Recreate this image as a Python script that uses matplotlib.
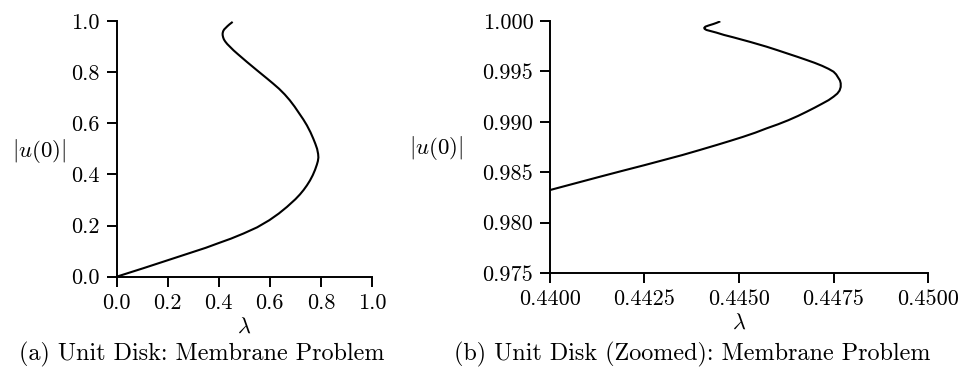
import matplotlib
matplotlib.use("Agg")
import matplotlib.pyplot as plt
from matplotlib.ticker import FormatStrFormatter

plt.rcParams["font.family"] = "serif"
plt.rcParams["font.serif"] = ["cmr10"]
plt.rcParams["mathtext.fontset"] = "cm"
plt.rcParams["axes.formatter.use_mathtext"] = True
plt.rcParams["font.size"] = 16

# solution branch on the unit disk: lambda vs |u(0)|
lam_full = [0.000, 0.052, 0.104, 0.153, 0.202, 0.251, 0.300, 0.349, 0.398, 0.448,
            0.497, 0.550, 0.598, 0.635, 0.667, 0.700, 0.718, 0.732, 0.745, 0.757,
            0.768, 0.777, 0.784, 0.788, 0.790, 0.789, 0.785, 0.778, 0.770, 0.759,
            0.745, 0.731, 0.714, 0.697, 0.678, 0.658, 0.636, 0.613, 0.589, 0.551,
            0.510, 0.475, 0.458, 0.444, 0.433, 0.425, 0.420, 0.417, 0.415, 0.415,
            0.417, 0.421, 0.427, 0.434, 0.442, 0.451]
u_full = [0.000, 0.0165, 0.033, 0.049, 0.065, 0.081, 0.097, 0.113, 0.131, 0.149,
          0.169, 0.193, 0.221, 0.247, 0.273, 0.303, 0.322, 0.339, 0.357, 0.376,
          0.397, 0.418, 0.438, 0.452, 0.466, 0.480, 0.500, 0.520, 0.540, 0.565,
          0.592, 0.615, 0.640, 0.665, 0.690, 0.713, 0.735, 0.755, 0.775, 0.806,
          0.840, 0.870, 0.885, 0.899, 0.910, 0.920, 0.928, 0.936, 0.945, 0.952,
          0.960, 0.967, 0.973, 0.980, 0.987, 0.994]

# zoomed part of the branch near |u(0)| = 1
lam_zoom = [0.44000, 0.44066, 0.44132, 0.44190, 0.44250, 0.44300, 0.44350, 0.44396,
            0.44441, 0.44476, 0.44510, 0.44543, 0.44573, 0.44603, 0.44630, 0.44656,
            0.44679, 0.44700, 0.44720, 0.44737, 0.44750, 0.44760, 0.44766, 0.44769,
            0.44769, 0.44767, 0.44762, 0.44757, 0.44750, 0.44737, 0.44720, 0.44700,
            0.44679, 0.44655, 0.44630, 0.44602, 0.44573, 0.44530, 0.44485, 0.44460,
            0.44440, 0.44425, 0.44414, 0.44409, 0.44408, 0.44411, 0.44420, 0.44432,
            0.44441, 0.44448]
u_zoom = [0.98323, 0.98389, 0.98455, 0.98512, 0.98570, 0.98620, 0.98670, 0.98720,
          0.98770, 0.98810, 0.98850, 0.98892, 0.98935, 0.98975, 0.99015, 0.99058,
          0.99100, 0.99140, 0.99180, 0.99215, 0.99249, 0.99280, 0.99310, 0.99345,
          0.99382, 0.99410, 0.99440, 0.99470, 0.99497, 0.99525, 0.99555, 0.99585,
          0.99613, 0.99644, 0.99675, 0.99710, 0.99745, 0.99792, 0.99838, 0.99862,
          0.99885, 0.99900, 0.99911, 0.99922, 0.99932, 0.99944, 0.99956, 0.99970,
          0.99982, 0.99993]

xticks_full = [0.0, 0.2, 0.4, 0.6, 0.8, 1.0]
yticks_full = [0.0, 0.2, 0.4, 0.6, 0.8, 1.0]
xticks_zoom = [0.4400, 0.4425, 0.4450, 0.4475, 0.4500]
yticks_zoom = [0.975, 0.980, 0.985, 0.990, 0.995, 1.000]

captions = ["(a) Unit Disk: Membrane Problem",
            "(b) Unit Disk (Zoomed): Membrane Problem"]


def style_axes(ax):
    for side in ["top", "right"]:
        ax.spines[side].set_visible(False)
    for side in ["left", "bottom"]:
        ax.spines[side].set_linewidth(1.4)
    ax.tick_params(direction="out", length=7, width=1.4, labelsize=16)
    ax.tick_params(axis="y", pad=5)
    ax.tick_params(axis="x", pad=5)


fig = plt.figure(figsize=(9.61, 3.73), dpi=100)

ax1 = fig.add_axes([0.1214, 0.2582, 0.2657, 0.6855])
ax1.plot(lam_full, u_full, color="black", lw=1.5)
ax1.set_xlim(0, 1)
ax1.set_ylim(0, 1)
ax1.set_xticks(xticks_full)
ax1.set_yticks(yticks_full)
ax1.xaxis.set_major_formatter(FormatStrFormatter("%.1f"))
ax1.yaxis.set_major_formatter(FormatStrFormatter("%.1f"))
style_axes(ax1)
ax1.set_xlabel(r"$\lambda$", fontsize=16, labelpad=3)
ax1.set_ylabel(r"$|u(0)|$", fontsize=16.5, rotation=0, ha="right", va="center")
ax1.yaxis.set_label_coords(-0.196, 0.49)

ax2 = fig.add_axes([0.5723, 0.2681, 0.3934, 0.6756])
ax2.plot(lam_zoom, u_zoom, color="black", lw=1.5)
ax2.set_xlim(0.44, 0.45)
ax2.set_ylim(0.975, 1.0)
ax2.set_xticks(xticks_zoom)
ax2.set_yticks(yticks_zoom)
ax2.xaxis.set_major_formatter(FormatStrFormatter("%.4f"))
ax2.yaxis.set_major_formatter(FormatStrFormatter("%.3f"))
style_axes(ax2)
ax2.set_xlabel(r"$\lambda$", fontsize=16, labelpad=3)
ax2.set_ylabel(r"$|u(0)|$", fontsize=16.5, rotation=0, ha="right", va="center")
ax2.yaxis.set_label_coords(-0.230, 0.496)

fig.text(0.2102, 0.051, captions[0], ha="center", va="center", fontsize=17.4)
fig.text(0.7206, 0.051, captions[1], ha="center", va="center", fontsize=17.4)

fig.savefig("out.png", dpi=100)
